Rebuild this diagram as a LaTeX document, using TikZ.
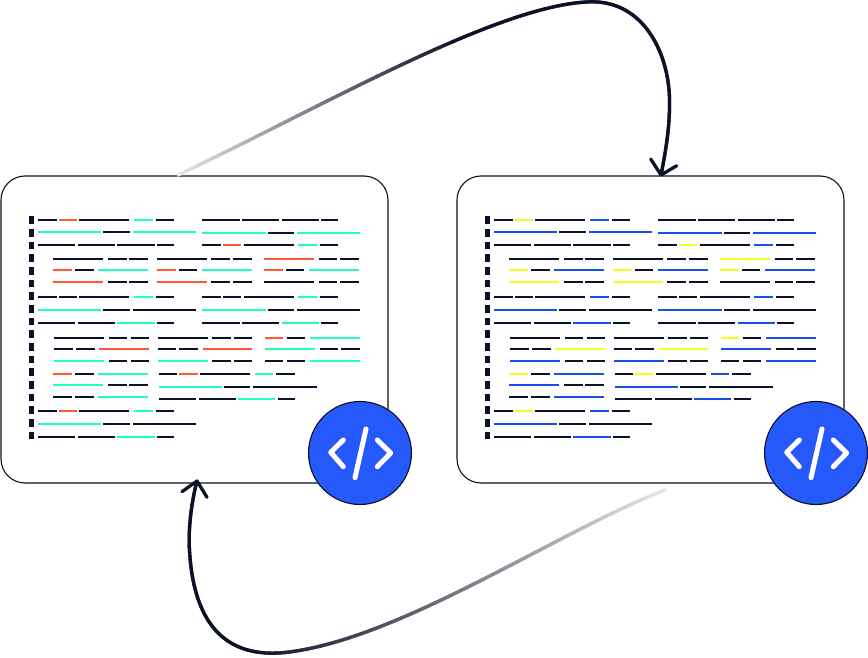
\documentclass[tikz,border=0pt]{standalone}
\usetikzlibrary{calc,decorations.markings}
\definecolor{codeD}{HTML}{0B1126}
\definecolor{iconBlue}{HTML}{2559FB}
\definecolor{mintA}{HTML}{22FFC3}
\definecolor{redA}{HTML}{FF5A32}
\definecolor{yelB}{HTML}{F4FF1E}
\definecolor{bluB}{HTML}{1650E5}
\tikzset{
  panelbox/.style={draw=codeD,line width=1.1pt,fill=white,rounded corners=24pt,minimum width=387pt,minimum height=307pt,inner sep=0pt,outer sep=0pt},
  badge/.style={circle,draw=codeD,line width=1.1pt,fill=iconBlue,minimum size=103pt,inner sep=0pt,outer sep=0pt},
  glyph/.style={draw=white,line width=5pt,line cap=round,line join=round},
  seg/.style={line width=1.8pt},
  gutter/.style={draw=none,fill=codeD},
  arrowwing/.style={draw=codeD,line width=3.3pt,line cap=round,line join=round},
  fadeline/.style={decoration={markings,mark=between positions 0 and 1 step 1.2pt with {
    \pgfmathsetmacro\fracval{(\pgfkeysvalueof{/pgf/decoration/mark info/distance from start})/(#1*\pgfdecoratedpathlength)}
    \pgfmathsetmacro\pct{min(100,10+90*\fracval)}
    \draw[line width=3.3pt,color=codeD!\pct!white] (-1.1pt,0pt) -- (1.1pt,0pt);
  }},postaction=decorate}
}
\newcommand{\rowseg}[2]{\foreach \a/\b/\c in {#2} {\draw[seg,draw=\c] (\a,#1) -- (\b,#1);}}
\newcommand{\codeblock}{%
  \foreach \n in {0,...,17} {\fill[gutter] (28.7,216.3+12.67*\n) rectangle (34,224+12.67*\n);}
  % upper group, left column
  \rowseg{219.7}{38/56.7/codeD,59/77/accA,79.3/129.3/codeD,134/152.7/accB,155.7/174/codeD}
  \rowseg{232.3}{38/101.3/accB,103.3/130/codeD,132.7/196/accB}
  \rowseg{245}{38/75.3/codeD,77.7/115/codeD,117.3/154.7/codeD,157/174/codeD}
  % upper group, right column
  \rowseg{220}{202.3/239.7/codeD,242/279.3/codeD,281.7/319/codeD,321.3/338.3/codeD}
  \rowseg{232.7}{202.3/265.7/accB,267.7/294/codeD,297/360/accB}
  \rowseg{245.3}{202.3/220.7/codeD,223.3/241.3/accA,243.7/293.7/codeD,298.3/316.7/accB,320/338.3/codeD}
  % indented group
  \rowseg{259}{53.3/103.3/codeD,108/126.7/codeD,129.3/148/codeD,157/206.7/codeD,211.3/230/codeD,233/251.7/codeD,264/314/accA,318.7/337.3/codeD,340.3/359/codeD}
  \rowseg{270.3}{53.3/72/accA,75/93.7/codeD,98.3/148/accB,157/175.7/accA,178.7/197/codeD,201.7/251.7/accB,264/282.7/accA,285.7/304.3/codeD,309/359/accB}
  \rowseg{281.7}{53.3/103.3/accA,108/126.7/codeD,129.3/148/codeD,157/206.7/accA,211.3/230/codeD,233/251.7/codeD,264/314/codeD,318.7/337.3/codeD,340.3/359/codeD}
  % second group
  \rowseg{297.3}{38/56.7/codeD,59/77/codeD,79.3/129.3/codeD,134/152.7/accB,155.7/174/codeD,202.3/220.7/codeD,223.3/241.3/codeD,243.7/293.7/codeD,298.3/316.7/accB,320/338.3/codeD}
  \rowseg{310}{38/101.3/accB,103.3/130/codeD,132.7/196/codeD,202.3/265.7/accB,267.7/294/codeD,297/360/codeD}
  \rowseg{322.7}{38/75.3/codeD,77.7/115/codeD,117.3/154.7/accB,157/174/codeD,202.3/239.7/codeD,242/279.3/codeD,281.7/319/accB,321.3/338.3/codeD}
  % second indented group
  \rowseg{338}{54/104/codeD,109/127.3/codeD,130.7/149/codeD,158/207.7/codeD,212.3/230.7/codeD,234/252.3/codeD,265.3/283.3/accA,286.7/305/codeD,310/360/accB}
  \rowseg{349.3}{54/72.7/codeD,76/94.7/codeD,99.3/149/accA,158/176.3/codeD,179.3/197.7/codeD,202.7/252.3/accA,265.3/315/accB,319.7/338.3/codeD,341.3/360/codeD}
  \rowseg{360.7}{54/104/accB,109/127.3/codeD,130.7/149/codeD,158/207.7/accB,212.3/230.7/codeD,234/252.3/codeD,265.3/283.3/codeD,286.7/305/codeD,310/360/accB}
  % third indented group
  \rowseg{374}{53.3/72/accA,75/93.7/codeD,98.3/148/accB,158.7/177/codeD,179.3/197.7/accA,200/250/codeD,255/273/accB,276.3/295/codeD}
  \rowseg{385.3}{53.3/103.3/accB,108/126.7/codeD,129.3/148/codeD}
  \rowseg{386.7}{158.7/222/accB,224/250/codeD,253.3/316.7/codeD}
  \rowseg{396.7}{53.3/72/codeD,75/93.7/codeD,98.3/148/accB}
  \rowseg{399.3}{158.7/196/codeD,198.5/236/codeD,238/275.3/accB,277.7/295/codeD}
  % last group
  \rowseg{411.3}{38/56.7/codeD,59/77/accA,79.3/129.3/codeD,134/152.7/accB,155.7/174/codeD}
  \rowseg{424}{38/101.3/accB,103.3/130/codeD,132.7/196/codeD}
  \rowseg{436.7}{38/75.3/codeD,77.7/115/codeD,117.3/154.7/accB,157/174/codeD}
}
\begin{document}
\begin{tikzpicture}[x=1pt,y=-1pt]
  \useasboundingbox (0,0) rectangle (868,658);
  \node[panelbox] (leftpanel) at (194.5,329.5) {};
  \node[panelbox] (rightpanel) at (650.5,329.5) {};
  \begin{scope}
    \colorlet{accA}{redA}\colorlet{accB}{mintA}
    \codeblock
  \end{scope}
  \begin{scope}[xshift=456pt]
    \colorlet{accA}{yelB}\colorlet{accB}{bluB}
    \codeblock
  \end{scope}
  % connector: left panel to right panel
  \coordinate (topstart) at ($(leftpanel.north)+(-16.5,-1)$);
  \coordinate (toptip) at ($(rightpanel.north)+(10.5,-1)$);
  \coordinate (topwingL) at ($(toptip)+(-10.3,-16)$);
  \coordinate (topwingR) at ($(toptip)+(15.7,-9.3)$);
  \path[fadeline=0.47] (topstart) .. controls (320,108) and (500,3) .. (592,1.8)
     .. controls (645,1.8) and (669,55) .. (669.5,100)
     .. controls (670,125) and (666,150) .. (toptip);
  \draw[arrowwing] (topwingL) -- (toptip) -- (topwingR);
  % connector: right panel to left panel
  \coordinate (botstart) at ($(rightpanel.south)+(14.5,7)$);
  \coordinate (bottip) at ($(leftpanel.south)+(2.5,-2)$);
  \coordinate (botwingL) at ($(bottip)+(-15,10.7)$);
  \coordinate (botwingR) at ($(bottip)+(10,16.3)$);
  \path[fadeline=0.7] (botstart) .. controls (560,530) and (400,640) .. (285,652.5)
     .. controls (240,657) and (193,640) .. (189.3,546)
     .. controls (188.5,525) and (192,500) .. (bottip);
  \draw[arrowwing] (botwingL) -- (bottip) -- (botwingR);
  % badges
  \node[badge] (leftbadge) at (360,453) {};
  \node[badge] (rightbadge) at (816,453) {};
  \foreach \cx in {360,816} {
    \begin{scope}[shift={(\cx,453)}]
      \draw[glyph] (-16.7,-13) -- (-29.3,-0.7) -- (-16.7,13.7);
      \draw[glyph] (17.3,-13) -- (30.7,0) -- (17.3,13.7);
      \draw[glyph] (6,-24) -- (-5,24.7);
    \end{scope}
  }
\end{tikzpicture}
\end{document}
